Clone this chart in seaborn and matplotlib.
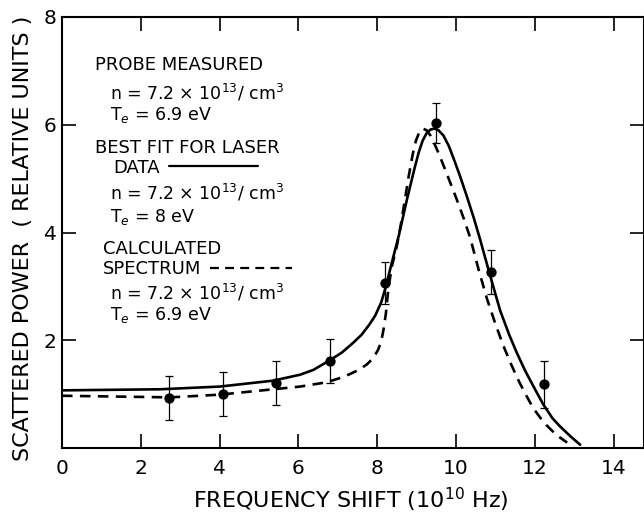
import numpy as np
import pandas as pd
import matplotlib
matplotlib.use("Agg")
import matplotlib.pyplot as plt
import seaborn as sns

# ---- data ----
pt_x = [2.72, 4.08, 5.43, 6.80, 8.19, 9.50, 10.88, 12.23]
pt_y = [0.93, 1.00, 1.21, 1.62, 3.06, 6.04, 3.26, 1.18]
pt_err = [0.41, 0.41, 0.41, 0.41, 0.39, 0.37, 0.41, 0.43]

fit_x = [0.0, 2.49, 4.0, 5.36, 6.04, 6.38, 6.8, 7.1, 7.4, 7.6, 7.8, 7.95, 8.1,
         8.22, 8.37, 8.55, 8.75, 8.95, 9.05, 9.15, 9.25, 9.35, 9.45, 9.55,
         9.68, 9.82, 9.95, 10.1, 10.27, 10.45, 10.6, 10.85, 11.12, 11.35,
         11.54, 11.75, 11.96, 12.22, 12.45, 12.64, 12.9, 13.15]
fit_y = [1.07, 1.09, 1.14, 1.25, 1.36, 1.45, 1.63, 1.77, 1.96, 2.1, 2.29, 2.46, 2.7,
         3.0, 3.44, 3.95, 4.6, 5.2, 5.48, 5.7, 5.84, 5.91, 5.93, 5.9,
         5.8, 5.6, 5.35, 5.05, 4.68, 4.27, 3.9, 3.24, 2.55, 2.1,
         1.77, 1.44, 1.15, 0.8, 0.55, 0.4, 0.22, 0.06]

calc_x = [0.0, 2.74, 4.0, 5.36, 6.04, 6.72, 7.06, 7.3, 7.56, 7.75, 7.9, 8.02,
          8.1, 8.16, 8.22, 8.28, 8.37, 8.49, 8.6, 8.7, 8.8, 8.9, 8.98, 9.06,
          9.15, 9.25, 9.35, 9.45, 9.57, 9.76, 10.02, 10.2, 10.36, 10.57,
          10.78, 11.0, 11.2, 11.4, 11.6, 11.8, 11.96, 12.15, 12.3, 12.55, 12.82]
calc_y = [0.97, 0.94, 0.99, 1.09, 1.14, 1.22, 1.3, 1.37, 1.46, 1.56, 1.67, 1.82,
          1.97, 2.2, 2.5, 2.94, 3.37, 3.72, 4.15, 4.6, 5.05, 5.45, 5.7, 5.85,
          5.93, 5.9, 5.8, 5.65, 5.45, 5.1, 4.61, 4.25, 3.9, 3.32,
          2.78, 2.3, 1.9, 1.55, 1.23, 0.95, 0.74, 0.55, 0.42, 0.24, 0.1]

x_ticks = [0, 2, 4, 6, 8, 10, 12, 14]
x_ticklabels = ["0", "2", "4", "6", "8", "10", "12", "14"]
y_ticks = [0, 2, 4, 6, 8]
y_ticklabels = ["", "2", "4", "6", "8"]

sns.set_style("ticks", {"axes.edgecolor": "black", "xtick.color": "black",
                        "ytick.color": "black", "text.color": "black",
                        "axes.labelcolor": "black"})
plt.rcParams["font.family"] = ["DejaVu Sans"]
plt.rcParams["mathtext.fontset"] = "dejavusans"

fig = plt.figure(figsize=(6.44, 5.18), dpi=100)
ax = fig.add_axes([62 / 644, 70 / 518, 1 - 62 / 644, 431 / 518])

lw = 1.9
fit_df = pd.DataFrame({"x": fit_x, "y": fit_y})
calc_df = pd.DataFrame({"x": calc_x, "y": calc_y})
sns.lineplot(data=fit_df, x="x", y="y", sort=False, estimator=None,
             color="black", lw=lw, ax=ax)
sns.lineplot(data=calc_df, x="x", y="y", sort=False, estimator=None,
             color="black", lw=lw, ax=ax)
ax.lines[-1].set_dashes([4, 2.8])
for ln in ax.lines:
    ln.set_solid_joinstyle("round")
    ln.set_dash_joinstyle("round")

ax.errorbar(pt_x, pt_y, yerr=pt_err, fmt="none", ecolor="black",
            elinewidth=0.9, capsize=3, capthick=0.9)
sns.scatterplot(x=pt_x, y=pt_y, color="black", s=55, edgecolor="black",
                linewidth=0, ax=ax, zorder=5)

ax.set_xlim(0, 14.77)
ax.set_ylim(0, 8)
ax.set_xticks(x_ticks)
ax.set_xticklabels(x_ticklabels)
ax.set_yticks(y_ticks)
ax.set_yticklabels(y_ticklabels)
ax.tick_params(direction="in", length=10, width=1.2, top=True, right=True,
               labelsize=14.5, colors="black")
ax.tick_params(axis="x", pad=8)
ax.tick_params(axis="y", pad=4)
for s in ax.spines.values():
    s.set_linewidth(1.5)
    s.set_visible(True)

ax.set_xlabel("FREQUENCY SHIFT (10$^{10}$ Hz)", fontsize=16)
ax.set_ylabel("SCATTERED POWER  ( RELATIVE UNITS )", fontsize=16)
ax.xaxis.set_label_coords(0.497, -0.088)
ax.yaxis.set_label_coords(-0.05, 0.487)

fs1 = 13
fs2 = 12.5
tx1 = dict(fontsize=fs1, va="center", ha="left", color="black")
tx2 = dict(fontsize=fs2, va="center", ha="left", color="black")
ax.text(0.84, 7.11, "PROBE MEASURED", **tx1)
ax.text(1.22, 6.59, "n = 7.2 × 10$^{13}$/ cm$^{3}$", **tx2)
ax.text(1.22, 6.18, "T$_{e}$ = 6.9 eV", **tx2)
ax.text(0.84, 5.57, "BEST FIT FOR LASER", **tx1)
ax.text(1.29, 5.2, "DATA", **tx1)
ax.plot([2.72, 4.97], [5.24, 5.24], color="black", lw=1.6)
ax.text(1.22, 4.73, "n = 7.2 × 10$^{13}$/ cm$^{3}$", **tx2)
ax.text(1.22, 4.29, "T$_{e}$ = 8 eV", **tx2)
ax.text(1.04, 3.69, "CALCULATED", **tx1)
ax.text(1.04, 3.32, "SPECTRUM", **tx1)
dl, = ax.plot([3.76, 5.84], [3.34, 3.34], color="black", lw=1.6)
dl.set_dashes([4, 2.8])
ax.text(1.22, 2.88, "n = 7.2 × 10$^{13}$/ cm$^{3}$", **tx2)
ax.text(1.22, 2.47, "T$_{e}$ = 6.9 eV", **tx2)

fig.savefig("out.png", dpi=100)
